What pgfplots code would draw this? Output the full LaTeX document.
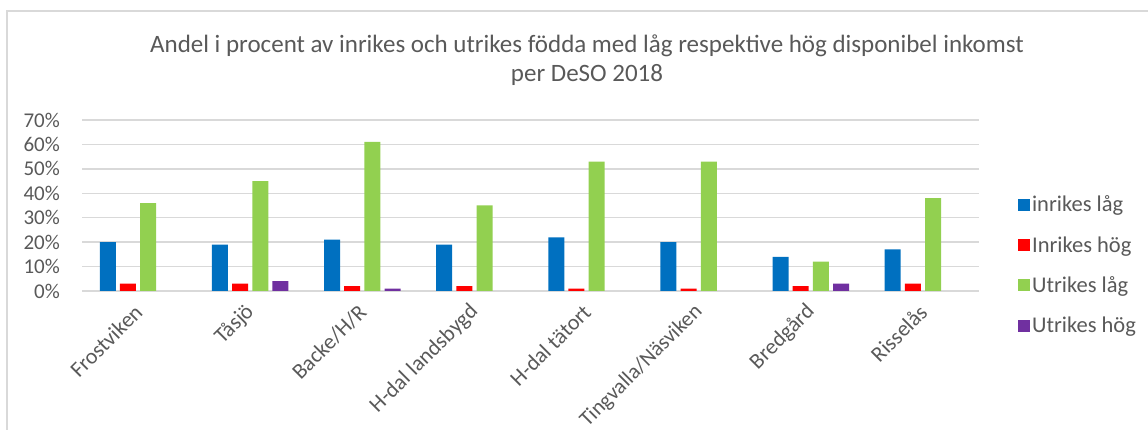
\documentclass[border=0pt]{standalone}
\usepackage{fontspec}
\setmainfont{Carlito}
\usepackage{pgfplots}
\pgfplotsset{compat=1.18}
\definecolor{cblue}{HTML}{0070C0}
\definecolor{cred}{HTML}{FF0000}
\definecolor{cgreen}{HTML}{92D050}
\definecolor{cpurple}{HTML}{7030A0}
\definecolor{txt}{HTML}{595959}
\definecolor{grd}{HTML}{D9D9D9}
\begin{document}
\begin{tikzpicture}[x=1pt,y=1pt]
\useasboundingbox (0,0) rectangle (1148,430);
\draw[grd, line width=1.5pt] (7,0) -- (7,419) -- (1148,419);
\node[anchor=base, text=txt, font=\fontsize{25}{30}\selectfont] at (587,377) {Andel i procent av inrikes och utrikes födda med låg respektive hög disponibel inkomst};
\node[anchor=base, text=txt, font=\fontsize{25}{30}\selectfont] at (587,348) {per DeSO 2018};
\begin{axis}[
  at={(82pt,139pt)}, anchor=south west,
  width=897pt, height=171pt, scale only axis,
  xmin=-0.5, xmax=7.5, ymin=0, ymax=70,
  ytick={0,10,...,70},
  yticklabel={\pgfmathprintnumber{\tick}\%},
  /pgf/number format/assume math mode=true,
  xtick={0,...,7},
  xticklabels={Frostviken,Tåsjö,Backe/H/R,H-dal landsbygd,H-dal tätort,{\fontsize{21.5}{26}\selectfont Tingvalla/Näsviken},Bredgård,Risselås},
  xticklabel style={rotate=45, anchor=east, font=\fontsize{22}{26}\selectfont, text=txt, xshift=4pt},
  xticklabel shift=18pt,
  yticklabel style={anchor=east, inner sep=0pt, xshift=-22pt, font=\fontsize{21}{25}\selectfont, text=txt},
  major tick length=0pt,
  axis line style={draw=none},
  ymajorgrids, major grid style={grd, line width=1.4pt},
  ybar, bar width=0.143,
  legend style={at={(1.04,0.152)}, anchor=west, draw=none, fill=none,
    font=\fontsize{22.5}{27}\selectfont, text=txt, row sep=19pt,
    legend cell align=left},
  legend image code/.code={\fill[#1,draw=none] (-4pt,-6pt) rectangle (8pt,6pt);},
]
\addplot[fill=cblue, draw=none, bar shift=-0.27] coordinates {(0,20) (1,19) (2,21) (3,19) (4,22) (5,20) (6,14) (7,17)};
\addplot[fill=cred, draw=none, bar shift=-0.09] coordinates {(0,3) (1,3) (2,2) (3,2) (4,1) (5,1) (6,2) (7,3)};
\addplot[fill=cgreen, draw=none, bar shift=0.09] coordinates {(0,36) (1,45) (2,61) (3,35) (4,53) (5,53) (6,12) (7,38)};
\addplot[fill=cpurple, draw=none, bar shift=0.27] coordinates {(1,4) (2,1) (6,3)};
\legend{inrikes låg, Inrikes hög, Utrikes låg, Utrikes hög}
\end{axis}
\end{tikzpicture}
\end{document}
